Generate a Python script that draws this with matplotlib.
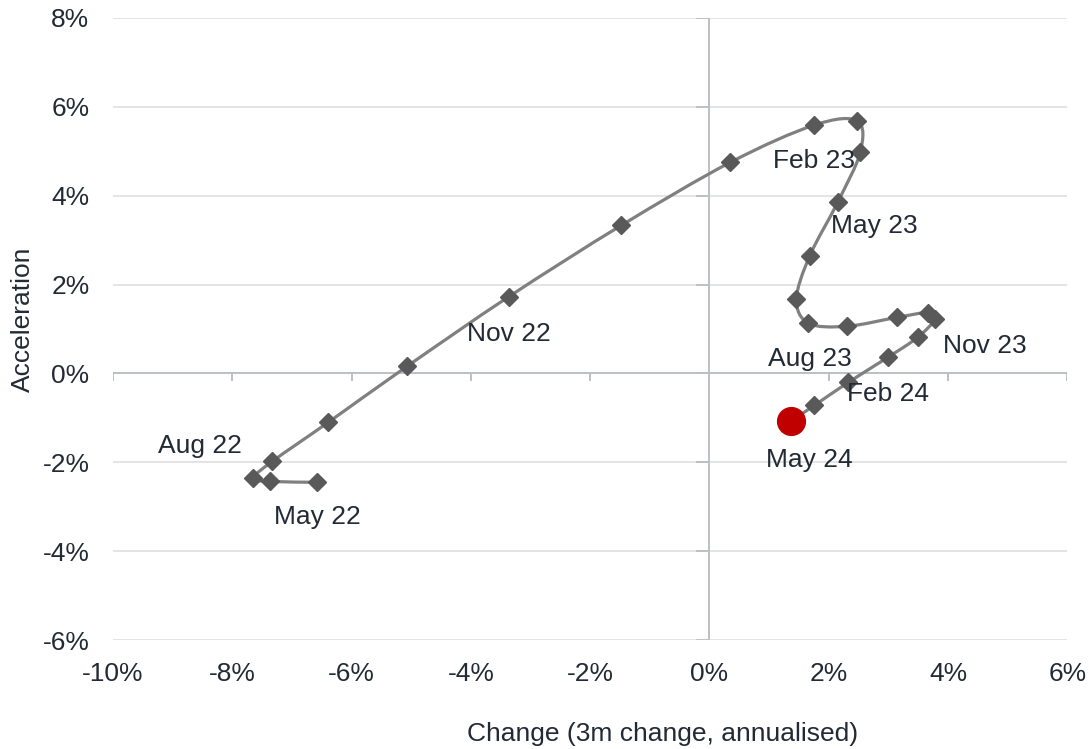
import numpy as np
import matplotlib
matplotlib.use("Agg")
import matplotlib.pyplot as plt
from matplotlib.path import Path
from matplotlib.patches import PathPatch

plt.rcParams['font.family'] = ['Liberation Sans', 'DejaVu Sans']

# Monthly path, May 22 to May 24 (values in %)
months = ["May 22", "Jun 22", "Jul 22", "Aug 22", "Sep 22", "Oct 22", "Nov 22",
          "Dec 22", "Jan 23", "Feb 23", "Mar 23", "Apr 23", "May 23", "Jun 23",
          "Jul 23", "Aug 23", "Sep 23", "Oct 23", "Nov 23", "Dec 23", "Jan 24",
          "Feb 24", "Mar 24", "Apr 24", "May 24"]
change = [-6.58, -7.37, -7.65, -7.33, -6.39, -5.07, -3.36, -1.48, 0.35, 1.76,
          2.48, 2.53, 2.15, 1.68, 1.46, 1.66, 2.30, 3.14, 3.67, 3.78, 3.49,
          2.99, 2.33, 1.76, 1.36]
acceleration = [-2.45, -2.43, -2.36, -1.98, -1.10, 0.16, 1.73, 3.33, 4.75, 5.59,
                5.68, 4.98, 3.85, 2.64, 1.67, 1.13, 1.06, 1.26, 1.37, 1.22, 0.81,
                0.36, -0.20, -0.72, -1.08]

# Labelled months and where their text sits (data units)
label_months = ["May 22", "Aug 22", "Nov 22", "Feb 23", "May 23", "Aug 23",
                "Nov 23", "Feb 24", "May 24"]
label_x = [-6.58, -8.54, -3.36, 1.76, 2.77, 1.68, 4.61, 2.99, 1.68]
label_y = [-3.24, -1.64, 0.88, 4.77, 3.31, 0.32, 0.61, -0.47, -1.94]

x_ticks = list(range(-10, 7, 2))
y_ticks = list(range(-6, 9, 2))

text_color = "#222A35"
grid_color = "#DDDDDD"
axis_color = "#BCC0C6"
fs = 19

W, H = 1089, 749
fig = plt.figure(figsize=(W / 100, H / 100), dpi=100)
ax = fig.add_axes([0.1038, 0.1455, 0.8762, 0.8305])
ax.set_xlim(-10, 6)
ax.set_ylim(-6, 8)

for s in ax.spines.values():
    s.set_visible(False)

# horizontal gridlines
for yv in y_ticks:
    if yv != 0:
        ax.axhline(yv, color=grid_color, lw=1.1, zorder=0)

# axes crossing at the origin
ax.axhline(0, color=axis_color, lw=1.4, zorder=1)
ax.axvline(0, color=axis_color, lw=1.4, zorder=1)
tick_len_x = 0.14  # in y units
tick_len_y = 0.2   # in x units
for xv in x_ticks:
    ax.plot([xv, xv], [0, -tick_len_x], color=axis_color, lw=1.4, zorder=1)
for yv in y_ticks:
    ax.plot([0, -tick_len_y], [yv, yv], color=axis_color, lw=1.4, zorder=1)

ax.set_xticks(x_ticks)
ax.set_yticks(y_ticks)
ax.set_xticklabels([f"{v}%" for v in x_ticks])
ax.set_yticklabels([f"{v}%" for v in y_ticks])
ax.tick_params(length=0, labelsize=fs, colors=text_color)
ax.tick_params(axis='x', pad=16)
ax.tick_params(axis='y', pad=17)

# axis titles
fig.text(663 / W, 1 - 741 / H, "Change (3m change, annualised)", fontsize=fs,
         color=text_color, ha="center", va="baseline")
fig.text(23 / W, 1 - 319 / H, "Acceleration", fontsize=fs, color=text_color,
         ha="center", va="center", rotation=90)

# smooth curve through the points (Catmull-Rom bezier in display space)
fig.canvas.draw()
pts = ax.transData.transform(np.column_stack([change, acceleration]))
n = len(pts)
verts = [pts[0]]
codes = [Path.MOVETO]
for i in range(n - 1):
    p0 = pts[i - 1] if i > 0 else pts[i]
    p1 = pts[i]
    p2 = pts[i + 1]
    p3 = pts[i + 2] if i + 2 < n else pts[i + 1]
    c1 = p1 + (p2 - p0) / 6.0
    c2 = p2 - (p3 - p1) / 6.0
    verts += [c1, c2, p2]
    codes += [Path.CURVE4] * 3
inv = ax.transData.inverted()
verts_data = inv.transform(np.array(verts))
patch = PathPatch(Path(verts_data, codes), facecolor="none", edgecolor="#808080",
                  lw=2.3, zorder=3, capstyle="round", joinstyle="round")
ax.add_patch(patch)

ax.plot(change[:-1], acceleration[:-1], linestyle="none", marker="D", ms=9.5,
        color="#595959", zorder=4)
ax.plot(change[-1:], acceleration[-1:], linestyle="none", marker="o", ms=20,
        color="#C00000", zorder=5)

for name, lx, ly in zip(label_months, label_x, label_y):
    ax.text(lx, ly, name, fontsize=fs, color=text_color, ha="center", va="center", zorder=6)

fig.savefig("out.png", dpi=100)
